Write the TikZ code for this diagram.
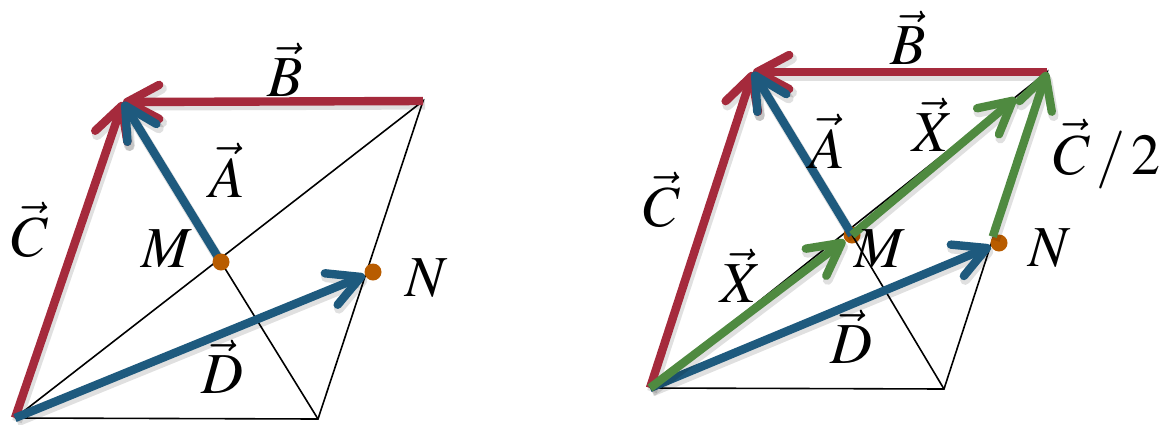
\documentclass[tikz,border=0pt]{standalone}
\usepackage{mathptmx}
\usetikzlibrary{arrows.meta,calc}
\definecolor{vred}{HTML}{A52A3C}
\definecolor{vblue}{HTML}{1E5A7E}
\definecolor{vgreen}{HTML}{4F8A40}
\definecolor{vorange}{HTML}{B85C00}

\begin{document}
\begin{tikzpicture}[x=0.5pt,y=-0.5pt,
  every node/.style={font=\fontsize{29}{33}\selectfont},
  vec/.style={line width=4.2pt,-{Straight Barb[length=16pt,width=17pt,round]},
    preaction={draw=black,opacity=.12,line width=5pt,transform canvas={shift={(1pt,-1.8pt)}}}},
  thin/.style={line width=0.8pt},
  dot/.style={circle,fill=vorange,inner sep=0pt,minimum size=8.5pt}]
  \useasboundingbox (0,0) rectangle (1174,424);

  \coordinate (O1) at (15,418);
  \coordinate (P1) at (123,102);
  \coordinate (Q1) at (423,101);
  \coordinate (R1) at (318,419);
  \coordinate (M1) at (221,262);
  \draw[thin] (O1) -- (R1) -- (Q1) -- (O1);
  \draw[thin] (M1) -- (R1);
  \node[dot] (N1) at (373,272) {};
  \draw[vec,vred] (O1) -- (P1);
  \draw[vec,vred] (Q1) -- (P1);
  \draw[vec,vblue] (M1) -- (P1);
  \draw[vec,vblue] (O1) -- (N1);
  \node[dot] (M1d) at (M1) {};
  \node (lB1) at (285,70) {$\vec{B}$};
  \node (lC1) at (30,230) {$\vec{C}$};
  \node (lA1) at (227,170) {$\vec{A}$};
  \node (lM1) at (167,249) {$M$};
  \node (lN1) at (427,278) {$N$};
  \node (lD1) at (222,367) {$\vec{D}$};

  \coordinate (O2) at (650,388);
  \coordinate (P2) at (753,72);
  \coordinate (Q2) at (1047,72);
  \coordinate (R2) at (944,389);
  \draw[thin] (O2) -- (R2) -- (Q2) -- (O2);
  \node[dot] (M2) at (852,235) {};
  \node[dot] (N2) at (999,243) {};
  \draw[thin] (M2.center) -- (R2);
  \coordinate (T2) at ($(M2)!0.84!(Q2)$);
  \draw[vec,vred] (O2) -- (P2);
  \draw[vec,vred] (Q2) -- (P2);
  \draw[vec,vblue] (M2.center) -- (P2);
  \draw[vec,vblue] (O2) -- (N2);
  \draw[vec,vgreen] (O2) -- (M2);
  \draw[vec,vgreen] (M2.center) -- (T2);
  \draw[vec,vgreen] (N2.north west) -- (Q2);
  \node (lB2) at (908,38) {$\vec{B}$};
  \node (lC2) at (662,200) {$\vec{C}$};
  \node (lA2) at (827,141) {$\vec{A}$};
  \node (lX2) at (933,125) {$\vec{X}$};
  \node (lH2) at (1107,154) {$\vec{C}\,/\,2$};
  \node (lM2) at (880,249) {$M$};
  \node (lN2) at (1050,248) {$N$};
  \node (lY2) at (741,276) {$\vec{X}$};
  \node (lD2) at (851,337) {$\vec{D}$};
\end{tikzpicture}
\end{document}
